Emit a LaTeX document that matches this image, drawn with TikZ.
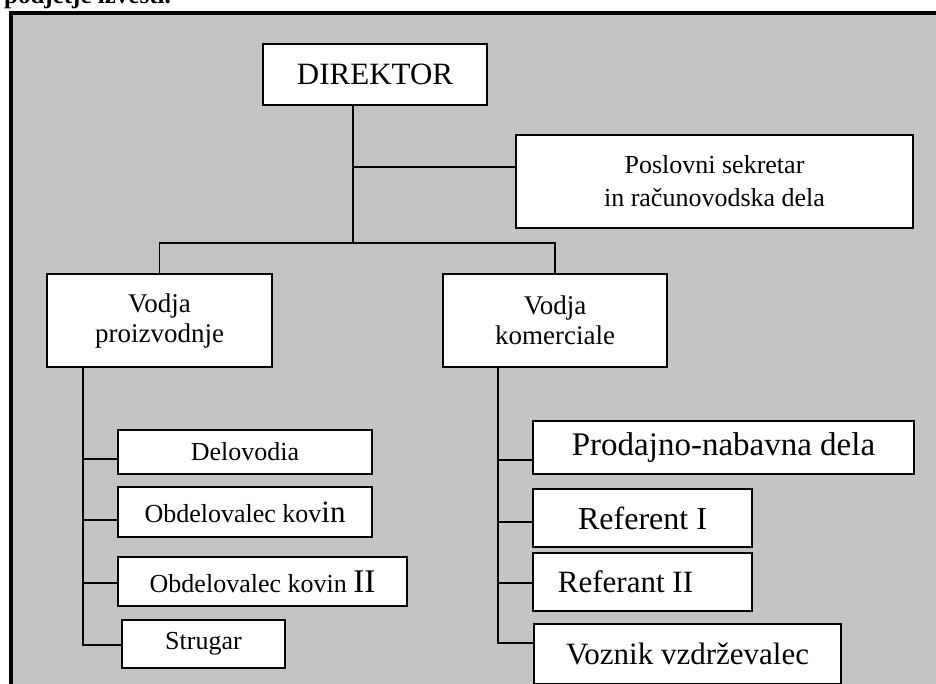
\documentclass[tikz,border=0pt]{standalone}
\usepackage{fontspec}
\setmainfont{Liberation Serif}
\definecolor{bg}{RGB}{196,196,196}
\tikzset{
  orgbox/.style={draw=black, line width=2.2pt, fill=white, inner sep=0pt, align=center, font=\fontsize{26}{32}\selectfont},
  conn/.style={line width=1.7pt, line cap=rect},
  frameline/.style={line width=4pt}
}
\begin{document}
\begin{tikzpicture}[x=1pt, y=-1pt]
\useasboundingbox (0,0) rectangle (936,683);
% background frame
\fill[bg] (11,13) rectangle (940,690);
\draw[frameline] (10.5,690) -- (10.5,13) -- (940,13);
% cut-off text at top
\node[anchor=base west, inner sep=0pt, font=\bfseries\fontsize{25}{25}\selectfont] (toptext) at (4,3) {podjetje izvesti.};

% boxes
\node[orgbox, minimum width=224pt, minimum height=61pt, font=\fontsize{31}{36}\selectfont] (dir) at (375,74.5) {DIREKTOR};
\node[orgbox, minimum width=397pt, minimum height=93pt, font=\fontsize{26}{33}\selectfont] (sek) at (714.5,181.5) {Poslovni sekretar\\in računovodska dela};
\node[orgbox, minimum width=225pt, minimum height=93pt, font=\fontsize{27}{30}\selectfont] (vp) at (159.5,320.5) {Vodja\\proizvodnje};
\node[orgbox, minimum width=224pt, minimum height=93pt, font=\fontsize{27}{30}\selectfont] (vk) at (555,320.5) {Vodja\\komerciale};

\node[orgbox, minimum width=254pt, minimum height=44pt] (del) at (245,452) {Delovodia};
\node[orgbox, minimum width=254pt, minimum height=50pt] (ob1) at (245,512) {Obdelovalec kov{\fontsize{31}{31}\selectfont in}};
\node[orgbox, minimum width=289pt, minimum height=49pt] (ob2) at (262.5,581.5) {Obdelovalec kovin {\fontsize{33}{33}\selectfont II}};
\node[orgbox, minimum width=163pt, minimum height=48pt] (str) at (203.5,644) {Strugar};

\node[orgbox, minimum width=381pt, minimum height=53pt, font=\fontsize{33}{36}\selectfont] (pro) at (723.5,447.5) {Prodajno-nabavna dela};
\node[orgbox, minimum width=219pt, minimum height=58pt, font=\fontsize{32}{36}\selectfont] (ref1) at (642.5,518) {Referent I};
\node[orgbox, minimum width=219pt, minimum height=58pt, font=\fontsize{31}{36}\selectfont] (ref2) at (642.5,582) {Referant II\hspace*{34pt}};
\node[orgbox, minimum width=307pt, minimum height=60pt, font=\fontsize{31}{36}\selectfont] (voz) at (687.5,654) {Voznik vzdrževalec};

% helper coordinates
\coordinate (tdir) at (353,200);
\coordinate (jsek) at (353,167);
\coordinate (busy) at (353,243);
\coordinate (trunkL) at (83,500);
\coordinate (trunkR) at (498,500);

% connectors top
\draw[conn] (dir.south -| tdir) -- (busy);
\draw[conn] (jsek) -- (jsek -| sek.west);
\draw[conn] (vp.north) -- (vp.north |- busy) -- (vk.north |- busy) -- (vk.north);

% left trunk
\coordinate (delw) at ([yshift=-7pt]del.west);
\coordinate (ob1w) at ([yshift=-8pt]ob1.west);
\coordinate (ob2w) at ([yshift=-1.5pt]ob2.west);
\coordinate (strw) at ([yshift=-1pt]str.west);
\draw[conn] (vp.south -| trunkL) -- (trunkL |- strw) -- (strw);
\draw[conn] (delw -| trunkL) -- (delw);
\draw[conn] (ob1w -| trunkL) -- (ob1w);
\draw[conn] (ob2w -| trunkL) -- (ob2w);

% right trunk
\coordinate (prow) at ([yshift=-12.5pt]pro.west);
\coordinate (ref1w) at ([yshift=-4pt]ref1.west);
\coordinate (ref2w) at ([yshift=-1pt]ref2.west);
\coordinate (vozw) at ([yshift=11pt]voz.west);
\draw[conn] (vk.south -| trunkR) -- (trunkR |- vozw) -- (vozw);
\draw[conn] (prow -| trunkR) -- (prow);
\draw[conn] (ref1w -| trunkR) -- (ref1w);
\draw[conn] (ref2w -| trunkR) -- (ref2w);
\end{tikzpicture}
\end{document}
